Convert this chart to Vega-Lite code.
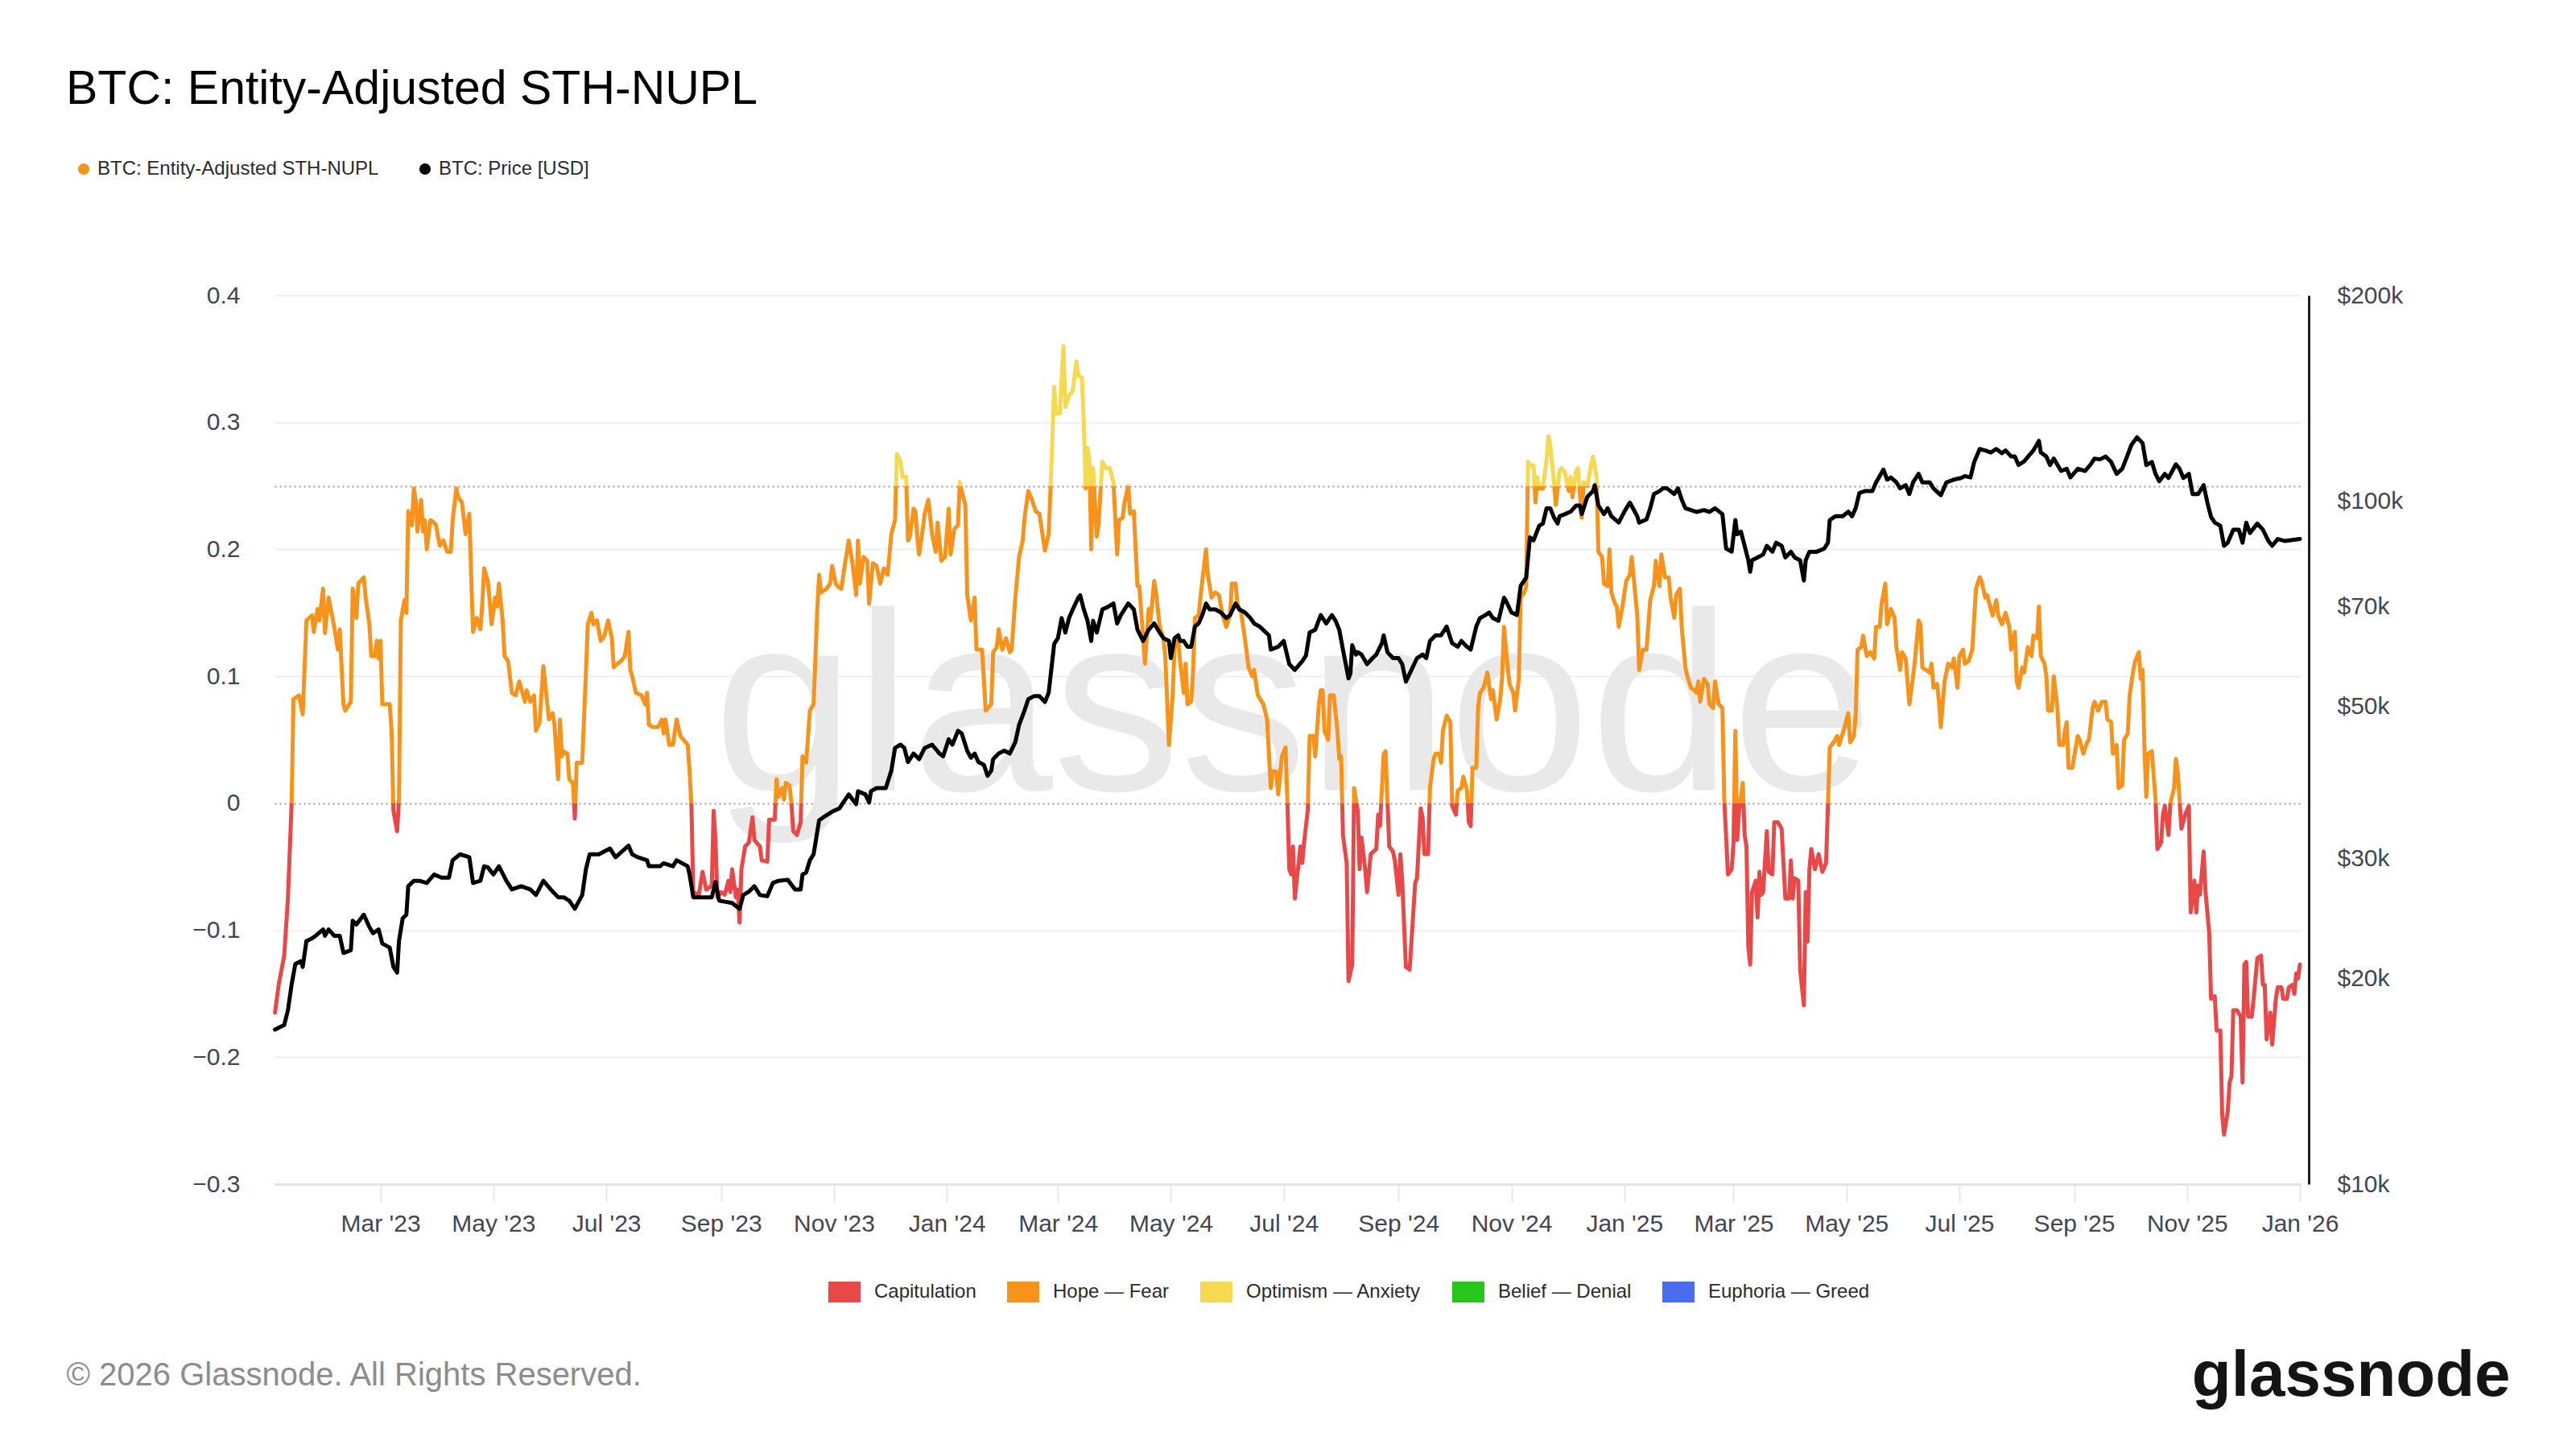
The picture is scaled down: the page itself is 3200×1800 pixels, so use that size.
{
"$schema": "https://vega.github.io/schema/vega-lite/v6.json",
"width": 2517,
"height": 1104,
"autosize": {"type": "none"},
"padding": {"left": 341, "top": 367, "right": 342, "bottom": 329},
"background": "#ffffff",
"config": {
  "font": "Liberation Sans",
  "view": {"stroke": null},
  "axis": {"labelFont": "Liberation Sans", "labelFontSize": 30, "labelColor": "#434651", "titleFont": "Liberation Sans"},
  "legend": {"labelFont": "Liberation Sans", "labelFontSize": 24, "labelColor": "#2b2b2b", "labelLimit": 1000}
},
"title": {"text": "BTC: Entity-Adjusted STH-NUPL", "anchor": "start", "frame": "group", "fontSize": 59, "fontWeight": "normal", "font": "Liberation Sans", "color": "#000000", "dx": -259, "offset": 10, "baseline": "alphabetic"},
"datasets": {
"nupl": [
{"date":"2023-01-03","nupl":-0.165},{"date":"2023-01-05","nupl":-0.143},{"date":"2023-01-08","nupl":-0.12},{"date":"2023-01-10","nupl":-0.075},{"date":"2023-01-12","nupl":0.0},{"date":"2023-01-13","nupl":0.082},{"date":"2023-01-16","nupl":0.085},{"date":"2023-01-18","nupl":0.07},{"date":"2023-01-20","nupl":0.144},{"date":"2023-01-23","nupl":0.148},{"date":"2023-01-24","nupl":0.135},{"date":"2023-01-26","nupl":0.153},{"date":"2023-01-27","nupl":0.144},{"date":"2023-01-29","nupl":0.169},{"date":"2023-01-30","nupl":0.134},{"date":"2023-02-01","nupl":0.162},{"date":"2023-02-04","nupl":0.139},{"date":"2023-02-06","nupl":0.121},{"date":"2023-02-07","nupl":0.137},{"date":"2023-02-09","nupl":0.078},{"date":"2023-02-10","nupl":0.073},{"date":"2023-02-13","nupl":0.08},{"date":"2023-02-14","nupl":0.169},{"date":"2023-02-16","nupl":0.146},{"date":"2023-02-17","nupl":0.173},{"date":"2023-02-20","nupl":0.178},{"date":"2023-02-21","nupl":0.162},{"date":"2023-02-23","nupl":0.141},{"date":"2023-02-24","nupl":0.116},{"date":"2023-02-26","nupl":0.116},{"date":"2023-02-27","nupl":0.128},{"date":"2023-02-28","nupl":0.114},{"date":"2023-03-01","nupl":0.128},{"date":"2023-03-02","nupl":0.078},{"date":"2023-03-06","nupl":0.078},{"date":"2023-03-07","nupl":0.057},{"date":"2023-03-08","nupl":-0.006},{"date":"2023-03-10","nupl":-0.022},{"date":"2023-03-11","nupl":0.003},{"date":"2023-03-12","nupl":0.144},{"date":"2023-03-14","nupl":0.16},{"date":"2023-03-15","nupl":0.15},{"date":"2023-03-16","nupl":0.23},{"date":"2023-03-18","nupl":0.219},{"date":"2023-03-19","nupl":0.248},{"date":"2023-03-20","nupl":0.239},{"date":"2023-03-21","nupl":0.214},{"date":"2023-03-23","nupl":0.239},{"date":"2023-03-24","nupl":0.214},{"date":"2023-03-25","nupl":0.223},{"date":"2023-03-26","nupl":0.2},{"date":"2023-03-28","nupl":0.223},{"date":"2023-03-30","nupl":0.221},{"date":"2023-03-31","nupl":0.219},{"date":"2023-04-02","nupl":0.203},{"date":"2023-04-04","nupl":0.207},{"date":"2023-04-06","nupl":0.198},{"date":"2023-04-08","nupl":0.198},{"date":"2023-04-09","nupl":0.223},{"date":"2023-04-11","nupl":0.248},{"date":"2023-04-12","nupl":0.241},{"date":"2023-04-14","nupl":0.237},{"date":"2023-04-16","nupl":0.212},{"date":"2023-04-18","nupl":0.228},{"date":"2023-04-19","nupl":0.18},{"date":"2023-04-20","nupl":0.135},{"date":"2023-04-22","nupl":0.146},{"date":"2023-04-24","nupl":0.137},{"date":"2023-04-25","nupl":0.157},{"date":"2023-04-26","nupl":0.185},{"date":"2023-04-28","nupl":0.175},{"date":"2023-04-29","nupl":0.16},{"date":"2023-04-30","nupl":0.141},{"date":"2023-05-02","nupl":0.162},{"date":"2023-05-03","nupl":0.155},{"date":"2023-05-04","nupl":0.173},{"date":"2023-05-06","nupl":0.144},{"date":"2023-05-07","nupl":0.116},{"date":"2023-05-09","nupl":0.112},{"date":"2023-05-11","nupl":0.087},{"date":"2023-05-13","nupl":0.085},{"date":"2023-05-15","nupl":0.096},{"date":"2023-05-18","nupl":0.08},{"date":"2023-05-19","nupl":0.089},{"date":"2023-05-21","nupl":0.08},{"date":"2023-05-23","nupl":0.085},{"date":"2023-05-24","nupl":0.057},{"date":"2023-05-26","nupl":0.064},{"date":"2023-05-28","nupl":0.108},{"date":"2023-05-29","nupl":0.094},{"date":"2023-05-31","nupl":0.066},{"date":"2023-06-02","nupl":0.071},{"date":"2023-06-03","nupl":0.062},{"date":"2023-06-05","nupl":0.019},{"date":"2023-06-06","nupl":0.066},{"date":"2023-06-07","nupl":0.037},{"date":"2023-06-08","nupl":0.041},{"date":"2023-06-10","nupl":0.039},{"date":"2023-06-11","nupl":0.019},{"date":"2023-06-13","nupl":0.016},{"date":"2023-06-14","nupl":-0.012},{"date":"2023-06-15","nupl":0.032},{"date":"2023-06-18","nupl":0.032},{"date":"2023-06-20","nupl":0.103},{"date":"2023-06-21","nupl":0.141},{"date":"2023-06-23","nupl":0.15},{"date":"2023-06-24","nupl":0.141},{"date":"2023-06-26","nupl":0.144},{"date":"2023-06-28","nupl":0.128},{"date":"2023-06-30","nupl":0.132},{"date":"2023-07-02","nupl":0.144},{"date":"2023-07-04","nupl":0.13},{"date":"2023-07-05","nupl":0.107},{"date":"2023-07-07","nupl":0.11},{"date":"2023-07-09","nupl":0.112},{"date":"2023-07-11","nupl":0.116},{"date":"2023-07-13","nupl":0.135},
{"date":"2023-07-14","nupl":0.105},{"date":"2023-07-15","nupl":0.1},{"date":"2023-07-17","nupl":0.087},{"date":"2023-07-20","nupl":0.085},{"date":"2023-07-22","nupl":0.078},{"date":"2023-07-23","nupl":0.087},{"date":"2023-07-24","nupl":0.062},{"date":"2023-07-26","nupl":0.06},{"date":"2023-07-29","nupl":0.06},{"date":"2023-07-31","nupl":0.066},{"date":"2023-08-01","nupl":0.055},{"date":"2023-08-02","nupl":0.066},{"date":"2023-08-04","nupl":0.046},{"date":"2023-08-06","nupl":0.046},{"date":"2023-08-08","nupl":0.066},{"date":"2023-08-10","nupl":0.053},{"date":"2023-08-14","nupl":0.046},{"date":"2023-08-15","nupl":0.025},{"date":"2023-08-16","nupl":-0.002},{"date":"2023-08-17","nupl":-0.07},{"date":"2023-08-20","nupl":-0.072},{"date":"2023-08-22","nupl":-0.054},{"date":"2023-08-24","nupl":-0.068},{"date":"2023-08-27","nupl":-0.065},{"date":"2023-08-28","nupl":-0.006},{"date":"2023-08-29","nupl":-0.029},{"date":"2023-08-30","nupl":-0.074},{"date":"2023-09-01","nupl":-0.07},{"date":"2023-09-03","nupl":-0.072},{"date":"2023-09-05","nupl":-0.061},{"date":"2023-09-06","nupl":-0.07},{"date":"2023-09-07","nupl":-0.052},{"date":"2023-09-09","nupl":-0.074},{"date":"2023-09-10","nupl":-0.068},{"date":"2023-09-11","nupl":-0.094},{"date":"2023-09-12","nupl":-0.052},{"date":"2023-09-14","nupl":-0.034},{"date":"2023-09-16","nupl":-0.031},{"date":"2023-09-18","nupl":-0.011},{"date":"2023-09-19","nupl":-0.029},{"date":"2023-09-22","nupl":-0.034},{"date":"2023-09-23","nupl":-0.045},{"date":"2023-09-26","nupl":-0.046},{"date":"2023-09-27","nupl":-0.013},{"date":"2023-09-30","nupl":-0.013},{"date":"2023-10-01","nupl":0.019},{"date":"2023-10-02","nupl":0.005},{"date":"2023-10-04","nupl":0.012},{"date":"2023-10-05","nupl":0.003},{"date":"2023-10-06","nupl":0.016},{"date":"2023-10-08","nupl":0.014},{"date":"2023-10-09","nupl":0.0},{"date":"2023-10-10","nupl":-0.022},{"date":"2023-10-12","nupl":-0.025},{"date":"2023-10-14","nupl":-0.015},{"date":"2023-10-15","nupl":0.037},{"date":"2023-10-17","nupl":0.032},{"date":"2023-10-19","nupl":0.073},{"date":"2023-10-21","nupl":0.078},{"date":"2023-10-23","nupl":0.153},{"date":"2023-10-24","nupl":0.18},{"date":"2023-10-25","nupl":0.166},{"date":"2023-10-28","nupl":0.169},{"date":"2023-10-30","nupl":0.173},{"date":"2023-10-31","nupl":0.187},{"date":"2023-11-02","nupl":0.173},{"date":"2023-11-03","nupl":0.171},{"date":"2023-11-05","nupl":0.169},{"date":"2023-11-07","nupl":0.189},{"date":"2023-11-09","nupl":0.207},{"date":"2023-11-11","nupl":0.189},{"date":"2023-11-13","nupl":0.164},{"date":"2023-11-14","nupl":0.207},{"date":"2023-11-15","nupl":0.173},{"date":"2023-11-17","nupl":0.194},{"date":"2023-11-19","nupl":0.191},{"date":"2023-11-20","nupl":0.157},{"date":"2023-11-22","nupl":0.189},{"date":"2023-11-24","nupl":0.187},{"date":"2023-11-26","nupl":0.173},{"date":"2023-11-28","nupl":0.185},{"date":"2023-11-30","nupl":0.18},{"date":"2023-12-02","nupl":0.212},{"date":"2023-12-04","nupl":0.223},{"date":"2023-12-05","nupl":0.275},{"date":"2023-12-07","nupl":0.269},{"date":"2023-12-08","nupl":0.257},{"date":"2023-12-10","nupl":0.257},{"date":"2023-12-11","nupl":0.207},{"date":"2023-12-12","nupl":0.21},{"date":"2023-12-14","nupl":0.232},{"date":"2023-12-15","nupl":0.23},{"date":"2023-12-16","nupl":0.21},{"date":"2023-12-17","nupl":0.196},{"date":"2023-12-19","nupl":0.216},{"date":"2023-12-20","nupl":0.228},{"date":"2023-12-22","nupl":0.239},{"date":"2023-12-24","nupl":0.212},{"date":"2023-12-26","nupl":0.198},{"date":"2023-12-27","nupl":0.221},{"date":"2023-12-29","nupl":0.191},{"date":"2023-12-31","nupl":0.194},{"date":"2024-01-02","nupl":0.232},{"date":"2024-01-03","nupl":0.196},{"date":"2024-01-05","nupl":0.216},{"date":"2024-01-07","nupl":0.219},{"date":"2024-01-08","nupl":0.253},{"date":"2024-01-09","nupl":0.246},{"date":"2024-01-11","nupl":0.235},{"date":"2024-01-12","nupl":0.164},{"date":"2024-01-14","nupl":0.144},{"date":"2024-01-16","nupl":0.162},
{"date":"2024-01-17","nupl":0.121},{"date":"2024-01-20","nupl":0.121},{"date":"2024-01-22","nupl":0.073},{"date":"2024-01-25","nupl":0.078},{"date":"2024-01-26","nupl":0.119},{"date":"2024-01-28","nupl":0.123},{"date":"2024-01-29","nupl":0.137},{"date":"2024-01-31","nupl":0.121},{"date":"2024-02-02","nupl":0.13},{"date":"2024-02-04","nupl":0.119},{"date":"2024-02-05","nupl":0.121},{"date":"2024-02-07","nupl":0.162},{"date":"2024-02-09","nupl":0.194},{"date":"2024-02-11","nupl":0.207},{"date":"2024-02-12","nupl":0.225},{"date":"2024-02-14","nupl":0.246},{"date":"2024-02-16","nupl":0.239},{"date":"2024-02-18","nupl":0.23},{"date":"2024-02-20","nupl":0.228},{"date":"2024-02-23","nupl":0.199},{"date":"2024-02-25","nupl":0.212},{"date":"2024-02-26","nupl":0.248},{"date":"2024-02-28","nupl":0.328},{"date":"2024-02-29","nupl":0.307},{"date":"2024-03-02","nupl":0.307},{"date":"2024-03-04","nupl":0.36},{"date":"2024-03-05","nupl":0.312},{"date":"2024-03-07","nupl":0.321},{"date":"2024-03-09","nupl":0.325},{"date":"2024-03-11","nupl":0.348},{"date":"2024-03-12","nupl":0.337},{"date":"2024-03-14","nupl":0.335},{"date":"2024-03-15","nupl":0.298},{"date":"2024-03-16","nupl":0.248},{"date":"2024-03-17","nupl":0.28},{"date":"2024-03-18","nupl":0.271},{"date":"2024-03-19","nupl":0.2},{"date":"2024-03-20","nupl":0.264},{"date":"2024-03-22","nupl":0.21},{"date":"2024-03-23","nupl":0.221},{"date":"2024-03-25","nupl":0.269},{"date":"2024-03-27","nupl":0.264},{"date":"2024-03-29","nupl":0.264},{"date":"2024-03-31","nupl":0.253},{"date":"2024-04-02","nupl":0.196},{"date":"2024-04-03","nupl":0.223},{"date":"2024-04-05","nupl":0.225},{"date":"2024-04-06","nupl":0.237},{"date":"2024-04-08","nupl":0.25},{"date":"2024-04-09","nupl":0.228},{"date":"2024-04-11","nupl":0.23},{"date":"2024-04-13","nupl":0.171},{"date":"2024-04-14","nupl":0.171},{"date":"2024-04-17","nupl":0.11},{"date":"2024-04-19","nupl":0.153},{"date":"2024-04-20","nupl":0.144},{"date":"2024-04-22","nupl":0.175},{"date":"2024-04-23","nupl":0.166},{"date":"2024-04-25","nupl":0.139},{"date":"2024-04-27","nupl":0.13},{"date":"2024-04-28","nupl":0.116},{"date":"2024-04-30","nupl":0.046},{"date":"2024-05-02","nupl":0.085},{"date":"2024-05-03","nupl":0.123},{"date":"2024-05-05","nupl":0.128},{"date":"2024-05-06","nupl":0.112},{"date":"2024-05-08","nupl":0.087},{"date":"2024-05-09","nupl":0.11},{"date":"2024-05-10","nupl":0.078},{"date":"2024-05-12","nupl":0.08},{"date":"2024-05-13","nupl":0.103},{"date":"2024-05-14","nupl":0.146},{"date":"2024-05-16","nupl":0.148},{"date":"2024-05-18","nupl":0.175},{"date":"2024-05-20","nupl":0.2},{"date":"2024-05-21","nupl":0.18},{"date":"2024-05-23","nupl":0.162},{"date":"2024-05-25","nupl":0.166},{"date":"2024-05-27","nupl":0.164},{"date":"2024-05-29","nupl":0.148},{"date":"2024-05-31","nupl":0.139},{"date":"2024-06-02","nupl":0.148},{"date":"2024-06-03","nupl":0.173},{"date":"2024-06-05","nupl":0.173},{"date":"2024-06-06","nupl":0.157},{"date":"2024-06-08","nupl":0.15},{"date":"2024-06-10","nupl":0.13},{"date":"2024-06-12","nupl":0.107},{"date":"2024-06-14","nupl":0.1},{"date":"2024-06-15","nupl":0.105},{"date":"2024-06-17","nupl":0.085},{"date":"2024-06-20","nupl":0.078},{"date":"2024-06-22","nupl":0.066},{"date":"2024-06-24","nupl":0.012},{"date":"2024-06-25","nupl":0.025},{"date":"2024-06-27","nupl":0.025},{"date":"2024-06-28","nupl":0.007},{"date":"2024-06-30","nupl":0.037},{"date":"2024-07-02","nupl":0.044},{"date":"2024-07-03","nupl":0.0},{"date":"2024-07-04","nupl":-0.052},{"date":"2024-07-05","nupl":-0.056},{"date":"2024-07-06","nupl":-0.034},{"date":"2024-07-07","nupl":-0.075},{"date":"2024-07-10","nupl":-0.034},{"date":"2024-07-11","nupl":-0.047},{"date":"2024-07-12","nupl":-0.031},{"date":"2024-07-14","nupl":-0.005},{"date":"2024-07-15","nupl":0.053},{"date":"2024-07-17","nupl":0.053},{"date":"2024-07-18","nupl":0.037},{"date":"2024-07-20","nupl":0.078},{"date":"2024-07-21","nupl":0.089},
{"date":"2024-07-22","nupl":0.089},{"date":"2024-07-23","nupl":0.057},{"date":"2024-07-25","nupl":0.05},{"date":"2024-07-26","nupl":0.085},{"date":"2024-07-28","nupl":0.085},{"date":"2024-07-30","nupl":0.057},{"date":"2024-07-31","nupl":0.035},{"date":"2024-08-01","nupl":0.037},{"date":"2024-08-02","nupl":-0.025},{"date":"2024-08-04","nupl":-0.047},{"date":"2024-08-05","nupl":-0.14},{"date":"2024-08-07","nupl":-0.127},{"date":"2024-08-08","nupl":0.012},{"date":"2024-08-10","nupl":-0.006},{"date":"2024-08-11","nupl":-0.052},{"date":"2024-08-12","nupl":-0.027},{"date":"2024-08-14","nupl":-0.052},{"date":"2024-08-15","nupl":-0.07},{"date":"2024-08-17","nupl":-0.04},{"date":"2024-08-20","nupl":-0.036},{"date":"2024-08-21","nupl":-0.009},{"date":"2024-08-22","nupl":-0.018},{"date":"2024-08-24","nupl":0.039},{"date":"2024-08-25","nupl":0.041},{"date":"2024-08-27","nupl":-0.034},{"date":"2024-08-29","nupl":-0.038},{"date":"2024-08-30","nupl":-0.045},{"date":"2024-09-01","nupl":-0.072},{"date":"2024-09-02","nupl":-0.04},{"date":"2024-09-03","nupl":-0.061},{"date":"2024-09-05","nupl":-0.129},{"date":"2024-09-07","nupl":-0.131},{"date":"2024-09-08","nupl":-0.109},{"date":"2024-09-10","nupl":-0.063},{"date":"2024-09-11","nupl":-0.059},{"date":"2024-09-13","nupl":-0.004},{"date":"2024-09-14","nupl":-0.011},{"date":"2024-09-15","nupl":-0.04},{"date":"2024-09-17","nupl":-0.04},{"date":"2024-09-18","nupl":0.012},{"date":"2024-09-20","nupl":0.035},{"date":"2024-09-21","nupl":0.039},{"date":"2024-09-23","nupl":0.039},{"date":"2024-09-24","nupl":0.032},{"date":"2024-09-25","nupl":0.057},{"date":"2024-09-27","nupl":0.069},{"date":"2024-09-29","nupl":0.064},{"date":"2024-09-30","nupl":-0.002},{"date":"2024-10-02","nupl":-0.009},{"date":"2024-10-03","nupl":0.01},{"date":"2024-10-05","nupl":0.012},{"date":"2024-10-06","nupl":0.021},{"date":"2024-10-08","nupl":0.01},{"date":"2024-10-09","nupl":-0.015},{"date":"2024-10-10","nupl":-0.018},{"date":"2024-10-11","nupl":0.028},{"date":"2024-10-13","nupl":0.028},{"date":"2024-10-14","nupl":0.075},{"date":"2024-10-15","nupl":0.087},{"date":"2024-10-17","nupl":0.091},{"date":"2024-10-19","nupl":0.103},{"date":"2024-10-21","nupl":0.082},{"date":"2024-10-22","nupl":0.089},{"date":"2024-10-24","nupl":0.066},{"date":"2024-10-26","nupl":0.082},{"date":"2024-10-27","nupl":0.1},{"date":"2024-10-28","nupl":0.139},{"date":"2024-10-30","nupl":0.107},{"date":"2024-10-31","nupl":0.094},{"date":"2024-11-02","nupl":0.087},{"date":"2024-11-03","nupl":0.073},{"date":"2024-11-05","nupl":0.098},{"date":"2024-11-06","nupl":0.162},{"date":"2024-11-08","nupl":0.166},{"date":"2024-11-09","nupl":0.171},{"date":"2024-11-10","nupl":0.269},{"date":"2024-11-11","nupl":0.266},{"date":"2024-11-13","nupl":0.266},{"date":"2024-11-14","nupl":0.237},{"date":"2024-11-15","nupl":0.257},{"date":"2024-11-16","nupl":0.248},{"date":"2024-11-18","nupl":0.248},{"date":"2024-11-20","nupl":0.271},{"date":"2024-11-21","nupl":0.289},{"date":"2024-11-22","nupl":0.282},{"date":"2024-11-24","nupl":0.253},{"date":"2024-11-25","nupl":0.235},{"date":"2024-11-27","nupl":0.262},{"date":"2024-11-28","nupl":0.264},{"date":"2024-11-30","nupl":0.26},{"date":"2024-12-02","nupl":0.246},{"date":"2024-12-03","nupl":0.257},{"date":"2024-12-04","nupl":0.241},{"date":"2024-12-06","nupl":0.262},{"date":"2024-12-07","nupl":0.264},{"date":"2024-12-09","nupl":0.225},{"date":"2024-12-10","nupl":0.253},{"date":"2024-12-12","nupl":0.25},{"date":"2024-12-14","nupl":0.266},{"date":"2024-12-15","nupl":0.273},{"date":"2024-12-17","nupl":0.257},{"date":"2024-12-18","nupl":0.198},{"date":"2024-12-20","nupl":0.194},{"date":"2024-12-21","nupl":0.173},{"date":"2024-12-23","nupl":0.171},{"date":"2024-12-24","nupl":0.2},{"date":"2024-12-25","nupl":0.166},{"date":"2024-12-27","nupl":0.157},{"date":"2024-12-28","nupl":0.155},{"date":"2024-12-29","nupl":0.139},{"date":"2024-12-31","nupl":0.155},{"date":"2025-01-02","nupl":0.175},{"date":"2025-01-04","nupl":0.18},{"date":"2025-01-05","nupl":0.194},{"date":"2025-01-08","nupl":0.148},{"date":"2025-01-09","nupl":0.105},{"date":"2025-01-11","nupl":0.121},{"date":"2025-01-13","nupl":0.121},{"date":"2025-01-15","nupl":0.16},{"date":"2025-01-17","nupl":0.171},{"date":"2025-01-18","nupl":0.191},{"date":"2025-01-20","nupl":0.171},{"date":"2025-01-21","nupl":0.196},{"date":"2025-01-23","nupl":0.178},{"date":"2025-01-24","nupl":0.178},
{"date":"2025-01-25","nupl":0.178},{"date":"2025-01-26","nupl":0.162},{"date":"2025-01-28","nupl":0.146},{"date":"2025-01-29","nupl":0.164},{"date":"2025-01-31","nupl":0.169},{"date":"2025-02-01","nupl":0.139},{"date":"2025-02-03","nupl":0.107},{"date":"2025-02-04","nupl":0.1},{"date":"2025-02-06","nupl":0.091},{"date":"2025-02-08","nupl":0.089},{"date":"2025-02-09","nupl":0.087},{"date":"2025-02-10","nupl":0.096},{"date":"2025-02-11","nupl":0.08},{"date":"2025-02-13","nupl":0.098},{"date":"2025-02-15","nupl":0.094},{"date":"2025-02-16","nupl":0.078},{"date":"2025-02-18","nupl":0.075},{"date":"2025-02-19","nupl":0.096},{"date":"2025-02-21","nupl":0.078},{"date":"2025-02-23","nupl":0.075},{"date":"2025-02-24","nupl":0.003},{"date":"2025-02-26","nupl":-0.056},{"date":"2025-02-28","nupl":-0.052},{"date":"2025-03-01","nupl":-0.031},{"date":"2025-03-02","nupl":0.057},{"date":"2025-03-03","nupl":-0.029},{"date":"2025-03-04","nupl":-0.006},{"date":"2025-03-06","nupl":0.016},{"date":"2025-03-07","nupl":-0.025},{"date":"2025-03-08","nupl":-0.034},{"date":"2025-03-09","nupl":-0.113},{"date":"2025-03-10","nupl":-0.127},{"date":"2025-03-11","nupl":-0.07},{"date":"2025-03-13","nupl":-0.061},{"date":"2025-03-14","nupl":-0.09},{"date":"2025-03-15","nupl":-0.054},{"date":"2025-03-16","nupl":-0.072},{"date":"2025-03-17","nupl":-0.07},{"date":"2025-03-19","nupl":-0.022},{"date":"2025-03-20","nupl":-0.054},{"date":"2025-03-22","nupl":-0.056},{"date":"2025-03-23","nupl":-0.015},{"date":"2025-03-25","nupl":-0.015},{"date":"2025-03-27","nupl":-0.02},{"date":"2025-03-29","nupl":-0.075},{"date":"2025-03-31","nupl":-0.075},{"date":"2025-04-01","nupl":-0.045},{"date":"2025-04-02","nupl":-0.075},{"date":"2025-04-03","nupl":-0.059},{"date":"2025-04-05","nupl":-0.061},{"date":"2025-04-06","nupl":-0.131},{"date":"2025-04-08","nupl":-0.159},{"date":"2025-04-09","nupl":-0.07},{"date":"2025-04-10","nupl":-0.109},{"date":"2025-04-11","nupl":-0.052},{"date":"2025-04-12","nupl":-0.036},{"date":"2025-04-14","nupl":-0.052},{"date":"2025-04-16","nupl":-0.04},{"date":"2025-04-18","nupl":-0.054},{"date":"2025-04-20","nupl":-0.047},{"date":"2025-04-21","nupl":-0.002},{"date":"2025-04-22","nupl":0.044},{"date":"2025-04-24","nupl":0.048},{"date":"2025-04-26","nupl":0.053},{"date":"2025-04-27","nupl":0.046},{"date":"2025-04-29","nupl":0.055},{"date":"2025-04-30","nupl":0.06},{"date":"2025-05-02","nupl":0.071},{"date":"2025-05-03","nupl":0.048},{"date":"2025-05-05","nupl":0.053},{"date":"2025-05-06","nupl":0.069},{"date":"2025-05-07","nupl":0.121},{"date":"2025-05-09","nupl":0.123},{"date":"2025-05-10","nupl":0.132},{"date":"2025-05-12","nupl":0.116},{"date":"2025-05-14","nupl":0.119},{"date":"2025-05-16","nupl":0.114},{"date":"2025-05-17","nupl":0.139},{"date":"2025-05-19","nupl":0.139},{"date":"2025-05-20","nupl":0.157},{"date":"2025-05-22","nupl":0.173},{"date":"2025-05-23","nupl":0.141},{"date":"2025-05-25","nupl":0.153},{"date":"2025-05-27","nupl":0.146},{"date":"2025-05-28","nupl":0.123},{"date":"2025-05-30","nupl":0.105},{"date":"2025-05-31","nupl":0.119},{"date":"2025-06-02","nupl":0.114},{"date":"2025-06-04","nupl":0.078},{"date":"2025-06-06","nupl":0.1},{"date":"2025-06-07","nupl":0.112},{"date":"2025-06-09","nupl":0.144},{"date":"2025-06-10","nupl":0.141},{"date":"2025-06-11","nupl":0.107},{"date":"2025-06-13","nupl":0.105},{"date":"2025-06-15","nupl":0.103},{"date":"2025-06-16","nupl":0.11},{"date":"2025-06-17","nupl":0.091},{"date":"2025-06-19","nupl":0.094},{"date":"2025-06-20","nupl":0.08},{"date":"2025-06-21","nupl":0.06},{"date":"2025-06-23","nupl":0.096},{"date":"2025-06-25","nupl":0.11},{"date":"2025-06-27","nupl":0.107},{"date":"2025-06-28","nupl":0.114},{"date":"2025-06-30","nupl":0.091},{"date":"2025-07-01","nupl":0.116},{"date":"2025-07-03","nupl":0.121},{"date":"2025-07-04","nupl":0.11},{"date":"2025-07-06","nupl":0.112},{"date":"2025-07-08","nupl":0.121},{"date":"2025-07-10","nupl":0.169},{"date":"2025-07-12","nupl":0.178},{"date":"2025-07-13","nupl":0.175},{"date":"2025-07-15","nupl":0.162},{"date":"2025-07-16","nupl":0.164},{"date":"2025-07-18","nupl":0.153},{"date":"2025-07-19","nupl":0.148},{"date":"2025-07-21","nupl":0.16},{"date":"2025-07-22","nupl":0.148},{"date":"2025-07-24","nupl":0.141},{"date":"2025-07-26","nupl":0.15},{"date":"2025-07-28","nupl":0.139},{"date":"2025-07-29","nupl":0.121},
{"date":"2025-07-31","nupl":0.135},{"date":"2025-08-01","nupl":0.096},{"date":"2025-08-02","nupl":0.091},{"date":"2025-08-04","nupl":0.107},{"date":"2025-08-05","nupl":0.103},{"date":"2025-08-07","nupl":0.123},{"date":"2025-08-09","nupl":0.116},{"date":"2025-08-10","nupl":0.132},{"date":"2025-08-12","nupl":0.13},{"date":"2025-08-13","nupl":0.155},{"date":"2025-08-14","nupl":0.116},{"date":"2025-08-16","nupl":0.11},{"date":"2025-08-17","nupl":0.1},{"date":"2025-08-18","nupl":0.073},{"date":"2025-08-20","nupl":0.073},{"date":"2025-08-21","nupl":0.1},{"date":"2025-08-23","nupl":0.075},{"date":"2025-08-24","nupl":0.046},{"date":"2025-08-26","nupl":0.046},{"date":"2025-08-27","nupl":0.057},{"date":"2025-08-28","nupl":0.064},{"date":"2025-08-29","nupl":0.028},{"date":"2025-08-31","nupl":0.028},{"date":"2025-09-03","nupl":0.053},{"date":"2025-09-04","nupl":0.05},{"date":"2025-09-06","nupl":0.039},{"date":"2025-09-08","nupl":0.048},{"date":"2025-09-09","nupl":0.05},{"date":"2025-09-11","nupl":0.075},{"date":"2025-09-12","nupl":0.08},{"date":"2025-09-14","nupl":0.073},{"date":"2025-09-16","nupl":0.08},{"date":"2025-09-18","nupl":0.08},{"date":"2025-09-19","nupl":0.066},{"date":"2025-09-21","nupl":0.064},{"date":"2025-09-22","nupl":0.039},{"date":"2025-09-24","nupl":0.046},{"date":"2025-09-25","nupl":0.012},{"date":"2025-09-27","nupl":0.014},{"date":"2025-09-28","nupl":0.05},{"date":"2025-09-30","nupl":0.055},{"date":"2025-10-01","nupl":0.085},{"date":"2025-10-03","nupl":0.105},{"date":"2025-10-04","nupl":0.112},{"date":"2025-10-06","nupl":0.119},{"date":"2025-10-07","nupl":0.098},{"date":"2025-10-08","nupl":0.105},{"date":"2025-10-09","nupl":0.044},{"date":"2025-10-10","nupl":0.005},{"date":"2025-10-11","nupl":0.039},{"date":"2025-10-13","nupl":0.041},{"date":"2025-10-15","nupl":0.003},{"date":"2025-10-16","nupl":-0.036},{"date":"2025-10-18","nupl":-0.031},{"date":"2025-10-19","nupl":-0.009},{"date":"2025-10-20","nupl":-0.002},{"date":"2025-10-22","nupl":-0.025},{"date":"2025-10-23","nupl":0.0},{"date":"2025-10-25","nupl":0.012},{"date":"2025-10-26","nupl":0.035},{"date":"2025-10-27","nupl":0.025},{"date":"2025-10-29","nupl":-0.02},{"date":"2025-10-31","nupl":-0.009},{"date":"2025-11-02","nupl":-0.002},{"date":"2025-11-03","nupl":-0.086},{"date":"2025-11-05","nupl":-0.061},{"date":"2025-11-06","nupl":-0.086},{"date":"2025-11-07","nupl":-0.065},{"date":"2025-11-08","nupl":-0.072},{"date":"2025-11-10","nupl":-0.038},{"date":"2025-11-11","nupl":-0.07},{"date":"2025-11-13","nupl":-0.102},{"date":"2025-11-14","nupl":-0.154},{"date":"2025-11-16","nupl":-0.152},{"date":"2025-11-17","nupl":-0.179},{"date":"2025-11-19","nupl":-0.179},{"date":"2025-11-20","nupl":-0.245},{"date":"2025-11-21","nupl":-0.261},{"date":"2025-11-23","nupl":-0.243},{"date":"2025-11-24","nupl":-0.22},{"date":"2025-11-25","nupl":-0.215},{"date":"2025-11-26","nupl":-0.163},{"date":"2025-11-28","nupl":-0.163},{"date":"2025-11-30","nupl":-0.168},{"date":"2025-12-01","nupl":-0.22},{"date":"2025-12-02","nupl":-0.127},{"date":"2025-12-03","nupl":-0.125},{"date":"2025-12-04","nupl":-0.168},{"date":"2025-12-06","nupl":-0.168},{"date":"2025-12-07","nupl":-0.154},{"date":"2025-12-09","nupl":-0.122},{"date":"2025-12-11","nupl":-0.12},{"date":"2025-12-12","nupl":-0.143},{"date":"2025-12-13","nupl":-0.143},{"date":"2025-12-14","nupl":-0.186},{"date":"2025-12-16","nupl":-0.165},{"date":"2025-12-17","nupl":-0.19},{"date":"2025-12-19","nupl":-0.154},{"date":"2025-12-20","nupl":-0.145},{"date":"2025-12-22","nupl":-0.145},{"date":"2025-12-23","nupl":-0.154},{"date":"2025-12-25","nupl":-0.154},{"date":"2025-12-26","nupl":-0.145},{"date":"2025-12-28","nupl":-0.143},{"date":"2025-12-29","nupl":-0.15},{"date":"2025-12-30","nupl":-0.134},{"date":"2025-12-31","nupl":-0.138},{"date":"2026-01-01","nupl":-0.127}
],
"price": [
{"date":"2023-01-03","price":16840},{"date":"2023-01-08","price":17100},{"date":"2023-01-10","price":17970},{"date":"2023-01-12","price":19600},{"date":"2023-01-14","price":21000},{"date":"2023-01-17","price":21200},{"date":"2023-01-18","price":20800},{"date":"2023-01-20","price":22700},{"date":"2023-01-23","price":22900},{"date":"2023-01-25","price":23100},{"date":"2023-01-29","price":23600},{"date":"2023-01-30","price":23100},{"date":"2023-02-01","price":23600},{"date":"2023-02-04","price":23100},{"date":"2023-02-07","price":23100},{"date":"2023-02-09","price":21800},{"date":"2023-02-13","price":22000},{"date":"2023-02-14","price":24300},{"date":"2023-02-16","price":24000},{"date":"2023-02-20","price":24800},{"date":"2023-02-23","price":23800},{"date":"2023-02-25","price":23300},{"date":"2023-02-28","price":23600},{"date":"2023-03-02","price":22500},{"date":"2023-03-06","price":22200},{"date":"2023-03-08","price":20800},{"date":"2023-03-10","price":20400},{"date":"2023-03-11","price":22700},{"date":"2023-03-13","price":24500},{"date":"2023-03-15","price":24800},{"date":"2023-03-16","price":27300},{"date":"2023-03-19","price":27800},{"date":"2023-03-22","price":27800},{"date":"2023-03-26","price":27600},{"date":"2023-03-30","price":28400},{"date":"2023-04-03","price":28100},{"date":"2023-04-07","price":28100},{"date":"2023-04-09","price":29800},{"date":"2023-04-13","price":30400},{"date":"2023-04-18","price":30100},{"date":"2023-04-20","price":27600},{"date":"2023-04-24","price":27800},{"date":"2023-04-26","price":29200},{"date":"2023-04-28","price":29100},{"date":"2023-05-01","price":28400},{"date":"2023-05-04","price":29200},{"date":"2023-05-08","price":27800},{"date":"2023-05-11","price":27000},{"date":"2023-05-16","price":27300},{"date":"2023-05-21","price":27000},{"date":"2023-05-24","price":26500},{"date":"2023-05-28","price":27800},{"date":"2023-06-01","price":27000},{"date":"2023-06-05","price":26300},{"date":"2023-06-08","price":26300},{"date":"2023-06-11","price":26000},{"date":"2023-06-14","price":25300},{"date":"2023-06-18","price":26500},{"date":"2023-06-20","price":28900},{"date":"2023-06-22","price":30400},{"date":"2023-06-27","price":30400},{"date":"2023-07-03","price":31000},{"date":"2023-07-06","price":30100},{"date":"2023-07-13","price":31300},
{"date":"2023-07-15","price":30400},{"date":"2023-07-18","price":30100},{"date":"2023-07-23","price":29800},{"date":"2023-07-24","price":29200},{"date":"2023-07-30","price":29200},{"date":"2023-08-01","price":29500},{"date":"2023-08-06","price":29200},{"date":"2023-08-08","price":29800},{"date":"2023-08-14","price":29200},{"date":"2023-08-15","price":28400},{"date":"2023-08-17","price":26300},{"date":"2023-08-21","price":26300},{"date":"2023-08-27","price":26300},{"date":"2023-08-29","price":27700},{"date":"2023-08-31","price":26000},{"date":"2023-09-07","price":25800},{"date":"2023-09-11","price":25300},{"date":"2023-09-13","price":26500},{"date":"2023-09-16","price":26800},{"date":"2023-09-19","price":27300},{"date":"2023-09-22","price":26500},{"date":"2023-09-26","price":26400},{"date":"2023-09-29","price":27600},{"date":"2023-10-02","price":27800},{"date":"2023-10-07","price":27900},{"date":"2023-10-11","price":27000},{"date":"2023-10-14","price":27000},{"date":"2023-10-15","price":28400},{"date":"2023-10-17","price":28600},{"date":"2023-10-19","price":29800},{"date":"2023-10-21","price":30400},{"date":"2023-10-24","price":34100},{"date":"2023-10-26","price":34400},{"date":"2023-10-31","price":35100},{"date":"2023-11-04","price":35500},{"date":"2023-11-06","price":36200},{"date":"2023-11-09","price":37200},{"date":"2023-11-13","price":36000},{"date":"2023-11-14","price":37600},{"date":"2023-11-18","price":37200},{"date":"2023-11-20","price":36200},{"date":"2023-11-21","price":37600},{"date":"2023-11-24","price":38000},{"date":"2023-11-29","price":38000},{"date":"2023-12-02","price":40300},{"date":"2023-12-04","price":43500},{"date":"2023-12-07","price":44000},{"date":"2023-12-09","price":43500},{"date":"2023-12-11","price":41500},{"date":"2023-12-14","price":42700},{"date":"2023-12-17","price":41900},{"date":"2023-12-20","price":43500},{"date":"2023-12-24","price":44000},{"date":"2023-12-28","price":42700},{"date":"2023-12-30","price":42300},{"date":"2024-01-02","price":44800},{"date":"2024-01-04","price":44000},{"date":"2024-01-07","price":46100},{"date":"2024-01-09","price":45700},{"date":"2024-01-12","price":43100},{"date":"2024-01-14","price":42100},{"date":"2024-01-16","price":42700},
{"date":"2024-01-18","price":41500},{"date":"2024-01-21","price":41100},{"date":"2024-01-23","price":39600},{"date":"2024-01-25","price":40300},{"date":"2024-01-26","price":41900},{"date":"2024-01-29","price":42700},{"date":"2024-02-01","price":43100},{"date":"2024-02-04","price":42700},{"date":"2024-02-07","price":44400},{"date":"2024-02-09","price":47000},{"date":"2024-02-12","price":49400},{"date":"2024-02-14","price":51300},{"date":"2024-02-17","price":51800},{"date":"2024-02-20","price":51800},{"date":"2024-02-23","price":50800},{"date":"2024-02-25","price":52400},{"date":"2024-02-28","price":61800},{"date":"2024-03-01","price":63000},{"date":"2024-03-03","price":67400},{"date":"2024-03-05","price":64200},{"date":"2024-03-07","price":67400},{"date":"2024-03-09","price":69400},{"date":"2024-03-12","price":72200},{"date":"2024-03-13","price":72800},{"date":"2024-03-15","price":69400},{"date":"2024-03-17","price":66800},{"date":"2024-03-19","price":62400},{"date":"2024-03-20","price":66800},{"date":"2024-03-22","price":64200},{"date":"2024-03-25","price":69400},{"date":"2024-03-28","price":70000},{"date":"2024-03-31","price":70800},{"date":"2024-04-02","price":66200},{"date":"2024-04-04","price":68100},{"date":"2024-04-08","price":70800},{"date":"2024-04-11","price":69400},{"date":"2024-04-13","price":64800},{"date":"2024-04-16","price":62400},{"date":"2024-04-19","price":64800},{"date":"2024-04-22","price":66200},{"date":"2024-04-25","price":64200},{"date":"2024-04-27","price":63000},{"date":"2024-04-30","price":62400},{"date":"2024-05-01","price":58900},{"date":"2024-05-03","price":63000},{"date":"2024-05-05","price":63600},{"date":"2024-05-06","price":62400},{"date":"2024-05-08","price":62400},{"date":"2024-05-10","price":61200},{"date":"2024-05-12","price":61200},{"date":"2024-05-14","price":65500},{"date":"2024-05-16","price":66200},{"date":"2024-05-18","price":68100},{"date":"2024-05-20","price":70800},{"date":"2024-05-22","price":69400},{"date":"2024-05-25","price":69400},{"date":"2024-05-28","price":68700},{"date":"2024-05-31","price":67400},{"date":"2024-06-02","price":68100},{"date":"2024-06-05","price":70800},{"date":"2024-06-07","price":69400},{"date":"2024-06-10","price":68700},{"date":"2024-06-13","price":67400},{"date":"2024-06-15","price":66200},{"date":"2024-06-18","price":65500},{"date":"2024-06-23","price":63600},{"date":"2024-06-24","price":60600},{"date":"2024-06-28","price":61200},{"date":"2024-07-01","price":62400},{"date":"2024-07-04","price":57700},{"date":"2024-07-07","price":56600},{"date":"2024-07-11","price":58300},{"date":"2024-07-13","price":59400},{"date":"2024-07-15","price":64200},{"date":"2024-07-18","price":64800},{"date":"2024-07-21","price":68100},
{"date":"2024-07-22","price":67400},{"date":"2024-07-24","price":66200},{"date":"2024-07-27","price":68100},{"date":"2024-07-29","price":66800},{"date":"2024-07-31","price":64800},{"date":"2024-08-02","price":60600},{"date":"2024-08-05","price":55000},{"date":"2024-08-06","price":55900},{"date":"2024-08-07","price":61500},{"date":"2024-08-09","price":59600},{"date":"2024-08-10","price":60100},{"date":"2024-08-12","price":59600},{"date":"2024-08-15","price":57700},{"date":"2024-08-18","price":58900},{"date":"2024-08-20","price":59600},{"date":"2024-08-23","price":61900},{"date":"2024-08-24","price":63600},{"date":"2024-08-26","price":60100},{"date":"2024-08-29","price":58900},{"date":"2024-09-01","price":58900},{"date":"2024-09-03","price":57700},{"date":"2024-09-05","price":54400},{"date":"2024-09-08","price":56600},{"date":"2024-09-11","price":58900},{"date":"2024-09-14","price":59600},{"date":"2024-09-16","price":58900},{"date":"2024-09-18","price":62400},{"date":"2024-09-21","price":63600},{"date":"2024-09-24","price":63600},{"date":"2024-09-27","price":65500},{"date":"2024-09-30","price":61900},{"date":"2024-10-03","price":61200},{"date":"2024-10-05","price":62400},{"date":"2024-10-08","price":61200},{"date":"2024-10-10","price":60600},{"date":"2024-10-13","price":65500},{"date":"2024-10-15","price":67400},{"date":"2024-10-18","price":68100},{"date":"2024-10-20","price":68700},{"date":"2024-10-22","price":67400},{"date":"2024-10-25","price":66800},{"date":"2024-10-28","price":72200},{"date":"2024-10-29","price":71500},{"date":"2024-11-01","price":68700},{"date":"2024-11-04","price":68100},{"date":"2024-11-06","price":75100},{"date":"2024-11-09","price":77300},{"date":"2024-11-10","price":82700},{"date":"2024-11-11","price":88500},{"date":"2024-11-13","price":87600},{"date":"2024-11-16","price":92000},{"date":"2024-11-18","price":92700},{"date":"2024-11-20","price":97600},{"date":"2024-11-22","price":97600},{"date":"2024-11-24","price":94600},{"date":"2024-11-26","price":92700},{"date":"2024-11-27","price":95000},{"date":"2024-11-30","price":95700},{"date":"2024-12-03","price":96500},{"date":"2024-12-06","price":98500},{"date":"2024-12-08","price":98500},{"date":"2024-12-09","price":95700},{"date":"2024-12-12","price":101400},{"date":"2024-12-15","price":103400},{"date":"2024-12-16","price":105500},{"date":"2024-12-18","price":98500},{"date":"2024-12-21","price":95700},{"date":"2024-12-23","price":97600},{"date":"2024-12-25","price":95000},{"date":"2024-12-29","price":93000},{"date":"2025-01-01","price":96500},{"date":"2025-01-04","price":99500},{"date":"2025-01-08","price":95000},{"date":"2025-01-09","price":93000},{"date":"2025-01-13","price":94000},{"date":"2025-01-15","price":97600},{"date":"2025-01-17","price":102400},{"date":"2025-01-20","price":103400},{"date":"2025-01-22","price":104400},{"date":"2025-01-24","price":104400},
{"date":"2025-01-26","price":103400},{"date":"2025-01-28","price":102400},{"date":"2025-01-30","price":104400},{"date":"2025-02-01","price":100500},{"date":"2025-02-03","price":97600},{"date":"2025-02-06","price":97000},{"date":"2025-02-09","price":96400},{"date":"2025-02-13","price":97000},{"date":"2025-02-16","price":96400},{"date":"2025-02-19","price":97600},{"date":"2025-02-23","price":95700},{"date":"2025-02-25","price":85200},{"date":"2025-02-28","price":84300},{"date":"2025-03-02","price":93800},{"date":"2025-03-03","price":89400},{"date":"2025-03-05","price":90200},{"date":"2025-03-07","price":86000},{"date":"2025-03-09","price":81900},{"date":"2025-03-10","price":78800},{"date":"2025-03-11","price":81900},{"date":"2025-03-14","price":82700},{"date":"2025-03-17","price":83500},{"date":"2025-03-19","price":86000},{"date":"2025-03-22","price":84300},{"date":"2025-03-24","price":86900},{"date":"2025-03-27","price":86000},{"date":"2025-03-29","price":82700},{"date":"2025-04-01","price":84300},{"date":"2025-04-03","price":82700},{"date":"2025-04-06","price":81900},{"date":"2025-04-08","price":76500},{"date":"2025-04-09","price":81900},{"date":"2025-04-11","price":84300},{"date":"2025-04-15","price":84300},{"date":"2025-04-19","price":85200},{"date":"2025-04-21","price":86900},{"date":"2025-04-22","price":93800},{"date":"2025-04-25","price":95000},{"date":"2025-04-29","price":95000},{"date":"2025-05-02","price":96500},{"date":"2025-05-04","price":95000},{"date":"2025-05-06","price":97600},{"date":"2025-05-08","price":102800},{"date":"2025-05-11","price":103400},{"date":"2025-05-15","price":103400},{"date":"2025-05-17","price":106500},{"date":"2025-05-21","price":111200},{"date":"2025-05-23","price":107500},{"date":"2025-05-25","price":108300},{"date":"2025-05-28","price":106500},{"date":"2025-05-30","price":104400},{"date":"2025-06-02","price":105500},{"date":"2025-06-04","price":102400},{"date":"2025-06-06","price":106500},{"date":"2025-06-09","price":109600},{"date":"2025-06-11","price":106500},{"date":"2025-06-15","price":106500},{"date":"2025-06-17","price":104400},{"date":"2025-06-21","price":102000},{"date":"2025-06-24","price":106500},{"date":"2025-06-28","price":107500},{"date":"2025-07-02","price":108100},{"date":"2025-07-04","price":108800},{"date":"2025-07-07","price":108300},{"date":"2025-07-09","price":114000},{"date":"2025-07-12","price":119200},{"date":"2025-07-15","price":118600},{"date":"2025-07-18","price":117800},{"date":"2025-07-21","price":119200},{"date":"2025-07-24","price":117500},{"date":"2025-07-26","price":118600},{"date":"2025-07-29","price":116200},
{"date":"2025-07-31","price":116200},{"date":"2025-08-02","price":112900},{"date":"2025-08-05","price":114300},{"date":"2025-08-08","price":116900},{"date":"2025-08-10","price":118600},{"date":"2025-08-13","price":122500},{"date":"2025-08-14","price":117800},{"date":"2025-08-17","price":116200},{"date":"2025-08-19","price":112900},{"date":"2025-08-21","price":115400},{"date":"2025-08-25","price":110700},{"date":"2025-08-28","price":111500},{"date":"2025-08-30","price":108300},{"date":"2025-09-03","price":111500},{"date":"2025-09-07","price":110700},{"date":"2025-09-10","price":113200},{"date":"2025-09-12","price":115400},{"date":"2025-09-15","price":115100},{"date":"2025-09-18","price":116200},{"date":"2025-09-21","price":114100},{"date":"2025-09-24","price":109600},{"date":"2025-09-27","price":111500},{"date":"2025-09-29","price":115100},{"date":"2025-10-02","price":120900},{"date":"2025-10-05","price":124000},{"date":"2025-10-08","price":121600},{"date":"2025-10-10","price":112900},{"date":"2025-10-13","price":114100},{"date":"2025-10-15","price":109600},{"date":"2025-10-17","price":106900},{"date":"2025-10-20","price":109600},{"date":"2025-10-22","price":108100},{"date":"2025-10-26","price":113200},{"date":"2025-10-28","price":111500},{"date":"2025-10-30","price":108100},{"date":"2025-11-02","price":109600},{"date":"2025-11-04","price":102400},{"date":"2025-11-07","price":102400},{"date":"2025-11-10","price":105500},{"date":"2025-11-12","price":99500},{"date":"2025-11-14","price":94800},{"date":"2025-11-16","price":93000},{"date":"2025-11-19","price":92000},{"date":"2025-11-21","price":86000},{"date":"2025-11-23","price":86900},{"date":"2025-11-26","price":90800},{"date":"2025-11-29","price":90800},{"date":"2025-12-01","price":86900},{"date":"2025-12-03","price":93000},{"date":"2025-12-05","price":89800},{"date":"2025-12-09","price":92700},{"date":"2025-12-12","price":90800},{"date":"2025-12-15","price":87400},{"date":"2025-12-17","price":86000},{"date":"2025-12-20","price":88000},{"date":"2025-12-24","price":87400},{"date":"2025-12-28","price":87700},{"date":"2026-01-01","price":88000}
]
},
"layer": [
  {
    "data": {"name": "nupl"},
    "mark": {"type": "line", "strokeWidth": 5, "strokeJoin": "round", "strokeCap": "round",
      "stroke": {"gradient": "linear", "x1": 0, "y1": 0, "x2": 0, "y2": 1,
        "stops": [
          {"offset": 0, "color": "#F5D94E"},
          {"offset": 0.17713, "color": "#F5D94E"},
          {"offset": 0.17713, "color": "#F7931A"},
          {"offset": 0.57971, "color": "#F7931A"},
          {"offset": 0.57971, "color": "#E94848"},
          {"offset": 1, "color": "#E94848"}
        ]}},
    "encoding": {
      "x": {"field": "date", "type": "temporal",
        "scale": {"type": "utc", "domain": [{"year": 2023, "month": 1, "date": 2, "hours": 18, "utc": true}, {"year": 2026, "month": 1, "date": 1, "hours": 10, "utc": true}]},
        "axis": {"format": "%b '%y", "tickCount": {"interval": "month", "step": 2}, "labelFlush": false, "labelOverlap": false, "labelBound": false,
          "grid": false, "domain": true, "domainColor": "#e3e3e3", "domainWidth": 3,
          "ticks": true, "tickColor": "#e6e6e6", "tickWidth": 2, "tickSize": 22, "labelPadding": 12, "labelFontSize": 30,
          "title": "© 2026 Glassnode. All Rights Reserved.", "titleX": -259, "titleY": 249, "titleAlign": "left", "titleBaseline": "alphabetic",
          "titleFontSize": 40, "titleFontWeight": "normal", "titleColor": "#8c8c8c"}},
      "y": {"field": "nupl", "type": "quantitative",
        "scale": {"domain": [-0.3, 0.4], "nice": false, "zero": false},
        "axis": {"values": [-0.3, -0.2, -0.1, 0, 0.1, 0.2, 0.25, 0.3, 0.4],
          "labelExpr": "datum.value === 0.25 ? '' : format(datum.value, '.1~f')",
          "title": "glassnode", "titleX": 1265, "titleY": 614, "titleAngle": 0, "titleAlign": "center", "titleBaseline": "alphabetic",
          "titleFontSize": 316, "titleFontWeight": "normal", "titleColor": "#e9e9e9",
          "grid": true, "gridWidth": 2,
          "gridColor": {"condition": {"test": "datum.value === 0 || datum.value === 0.25", "value": "#9a9a9a"}, "value": "#eeeeee"},
          "gridDash": {"condition": {"test": "datum.value === 0 || datum.value === 0.25", "value": [2, 4]}, "value": []},
          "domain": false, "ticks": false, "labelPadding": 43, "labelFontSize": 30}}
    }
  },
  {
    "data": {"values": [{"series": "BTC: Entity-Adjusted STH-NUPL"}, {"series": "BTC: Price [USD]"}]},
    "mark": {"type": "point", "filled": true, "opacity": 0},
    "encoding": {
      "color": {"field": "series", "type": "nominal",
        "scale": {"domain": ["BTC: Entity-Adjusted STH-NUPL", "BTC: Price [USD]"], "range": ["#F7931A", "#000000"]},
        "legend": {"orient": "none", "legendX": -249, "legendY": -169, "direction": "horizontal", "title": null,
          "symbolType": "circle", "symbolSize": 200, "symbolOpacity": 1, "symbolStrokeWidth": 0, "labelOffset": 5, "columnPadding": 45, "labelFontSize": 24, "labelLimit": 1000}}
    }
  },
  {
    "data": {"values": [{"zone": "Capitulation"}, {"zone": "Hope — Fear"}, {"zone": "Optimism — Anxiety"}, {"zone": "Belief — Denial"}, {"zone": "Euphoria — Greed"}]},
    "mark": {"type": "point", "filled": true, "opacity": 0},
    "encoding": {
      "fill": {"field": "zone", "type": "nominal",
        "scale": {"domain": ["Capitulation", "Hope — Fear", "Optimism — Anxiety", "Belief — Denial", "Euphoria — Greed"], "range": ["#E94848", "#F7931A", "#F5D94E", "#26C61B", "#4A6CEF"]},
        "legend": {"orient": "none", "legendX": 688, "legendY": 1218, "direction": "horizontal", "title": null,
          "symbolType": "M-1,-0.65H1V0.65H-1Z", "symbolSize": 1600, "symbolOpacity": 1, "symbolStrokeWidth": 0, "labelOffset": 17, "columnPadding": 38, "labelFontSize": 24, "labelLimit": 1000}}
    }
  },
  {
    "data": {"name": "price"},
    "mark": {"type": "line", "color": "#000000", "strokeWidth": 5, "strokeJoin": "round", "strokeCap": "round"},
    "encoding": {
      "x": {"field": "date", "type": "temporal"},
      "y": {"field": "price", "type": "quantitative",
        "scale": {"type": "log", "domain": [10000, 200000], "nice": false},
        "axis": {"orient": "right", "values": [10000, 20000, 30000, 50000, 70000, 100000, 200000],
          "labelExpr": "'$' + (datum.value / 1000) + 'k'", "grid": false, "ticks": false,
          "domain": true, "domainColor": "#1f1f1f", "domainWidth": 3, "offset": 10, "labelPadding": 35, "labelFontSize": 30,
          "title": "glassnode", "titleAngle": 0, "titleX": 250, "titleY": 1366, "titleAlign": "right", "titleBaseline": "alphabetic",
          "titleFontSize": 80, "titleFontWeight": "bold", "titleColor": "#141414"}}
    }
  }
],
"resolve": {"scale": {"y": "independent"}}
}
